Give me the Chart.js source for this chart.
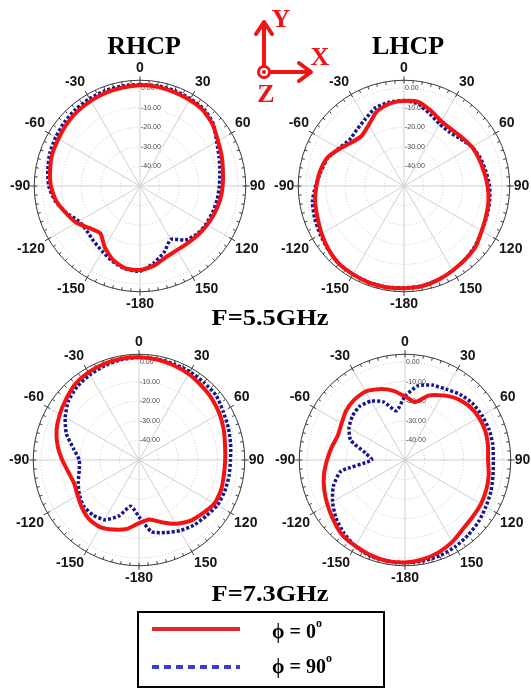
<!DOCTYPE html>
<html>
<head>
<meta charset="utf-8">
<script src="https://cdn.jsdelivr.net/npm/chart.js@4.4.1/dist/chart.umd.min.js"></script>
<style>
  html, body { margin: 0; padding: 0; background: #fff; overflow: hidden; }
  #page { position: relative; width: 531px; height: 688px; background: #fff; overflow: hidden;
          font-family: 'Liberation Serif', 'Times New Roman', serif; }
  #page canvas { position: absolute; }
  .t { position: absolute; font-weight: bold; color: #000; white-space: nowrap; line-height: 1;
       transform: translate(-50%, -50%); }
  .red { color: #f01414; }
  #legend { position: absolute; left: 137px; top: 611px; width: 248px; height: 77px;
            border: 2px solid #000; box-sizing: border-box; background: #fff; }
  .lg { position: absolute; font-weight: bold; font-size: 20px; white-space: nowrap; line-height: 1; color: #000; }
  .lg sup { font-size: 12px; position: relative; top: -3px; }
</style>
</head>
<body>
<div id="page">
  <canvas id="c1" width="260" height="260" style="left:8px;top:57px;width:260px;height:260px"></canvas>
  <canvas id="c2" width="260" height="260" style="left:272px;top:57px;width:260px;height:260px"></canvas>
  <canvas id="c3" width="260" height="260" style="left:7px;top:331px;width:260px;height:260px"></canvas>
  <canvas id="c4" width="260" height="260" style="left:273px;top:331px;width:260px;height:260px"></canvas>

  <div class="t" style="left:144px;top:46px;font-size:26px;">RHCP</div>
  <div class="t" style="left:408px;top:46px;font-size:26px;">LHCP</div>
  <div class="t" style="left:270px;top:317px;font-size:24px;transform:translate(-50%,-50%) scaleX(1.1);">F=5.5GHz</div>
  <div class="t" style="left:270px;top:593px;font-size:24px;transform:translate(-50%,-50%) scaleX(1.1);">F=7.3GHz</div>

  <svg style="position:absolute;left:0;top:0" width="531" height="120">
    <g stroke="#f01414" stroke-width="4" fill="none" stroke-linecap="round" stroke-linejoin="round">
      <line x1="264" y1="65" x2="264" y2="24"/>
      <polyline points="256,34 264,22 272,34"/>
      <line x1="271" y1="72" x2="310" y2="72"/>
      <polyline points="299,63 311,72 299,81"/>
      <circle cx="264" cy="72" r="5.5" stroke-width="3"/>
    </g>
    <circle cx="264" cy="72" r="2" fill="#f01414"/>
  </svg>
  <div class="t red" style="left:281px;top:19px;font-size:26px;">Y</div>
  <div class="t red" style="left:320px;top:57px;font-size:26px;">X</div>
  <div class="t red" style="left:266px;top:94px;font-size:26px;">Z</div>

  <div id="legend"></div>
  <div style="position:absolute;left:152px;top:627px;width:88px;height:4px;background:#e8222a;"></div>
  <div style="position:absolute;left:152px;top:665px;width:88px;height:4px;
              background:repeating-linear-gradient(to right,#3c3cd4 0 7px,transparent 7px 12px);"></div>
  <div class="lg" style="left:272px;top:620px;">ϕ = 0<sup>o</sup></div>
  <div class="lg" style="left:272px;top:655px;">ϕ = 90<sup>o</sup></div>
</div>

<script>
// Angles: 0,10,...,180,-170,...,-10 degrees (clockwise from top)
const angleLabels = ['0','','','30','','','60','','','90','','','120','','','150','','',
                     '-180','','','-150','','','-120','','','-90','','','-60','','','-30','',''];
// Radial axis (dB)
const radialTickValues = [0, -10, -20, -30, -40];
const radialTickLabels = ['0.00', '-10.00', '-20.00', '-30.00', '-40.00'];
const radialMin = -50;
const radialMax = 4;

// F = 5.5 GHz, RHCP
const rhcp55Phi0  = [1.5,1.4,1.0,0.7,0.3,-1.5,-4.0,-5.6,-7.0,-7.8,-8.5,-9.5,-10.4,-11.3,-12.0,-12.2,-11.3,-8.7,-7.1,
                     -7.3,-9.8,-14.0,-18.5,-16.5,-12.5,-9.7,-6.5,-4.5,-3.4,-2.3,-1.9,-1.0,-0.3,0.2,0.7,1.1];
const rhcp55Phi90 = [1.8,1.9,1.8,1.5,1.0,-1.0,-4.8,-7.0,-8.6,-9.5,-10.0,-10.6,-11.1,-11.9,-14.0,-18.5,-14.0,-10.0,-6.5,
                     -7.0,-9.0,-11.5,-13.2,-14.5,-14.0,-10.0,-6.0,-3.4,-2.2,-1.0,-0.3,0.5,1.1,1.5,1.8,1.9];
// F = 5.5 GHz, LHCP
const lhcp55Phi0  = [-6.6,-6.5,-9.3,-11.8,-12.3,-11.4,-10.0,-9.3,-8.5,-7.3,-6.2,-5.4,-4.2,-2.1,-1.2,-0.2,1.0,2.0,2.2,
                     2.5,2.5,2.1,1.8,0.3,-1.4,-3.0,-3.9,-5.3,-6.5,-8.2,-12.0,-15.3,-16.5,-14.0,-9.5,-7.3];
const lhcp55Phi90 = [-6.4,-7.5,-11.0,-13.5,-14.0,-12.5,-10.0,-8.5,-7.5,-6.3,-5.6,-5.0,-4.2,-2.5,-1.2,-0.2,1.0,1.8,2.0,
                     2.4,2.3,2.0,1.6,0.5,-0.6,-1.5,-2.5,-4.8,-7.0,-8.5,-11.5,-13.5,-12.5,-10.5,-7.5,-6.5];
// F = 7.3 GHz, RHCP
const rhcp73Phi0  = [2.4,2.1,1.5,0.7,-0.5,-1.4,-2.6,-4.0,-5.4,-6.0,-6.0,-5.4,-5.5,-7.6,-9.4,-12.4,-16.2,-19.2,-17.8,
                     -14.3,-12.2,-10.4,-10.5,-12.0,-13.8,-14.8,-13.5,-10.8,-7.8,-5.2,-3.3,-1.5,0.6,1.6,2.2,2.5];
const rhcp73Phi90 = [2.4,2.3,2.2,2.0,1.6,1.4,-0.4,-1.5,-2.5,-3.3,-3.3,-3.4,-3.8,-5.4,-6.5,-8.3,-10.6,-12.8,-21.0,
                     -26.0,-19.5,-14.8,-13.4,-13.2,-14.8,-17.0,-19.0,-19.5,-16.0,-10.5,-6.5,-3.0,-1.0,0.2,1.2,2.0];
// F = 7.3 GHz, LHCP
const lhcp73Phi0  = [-17.5,-20.0,-15.0,-11.9,-9.0,-7.2,-6.5,-6.4,-7.0,-7.6,-6.6,-5.8,-5.2,-4.9,-4.0,-1.7,0.2,1.6,2.3,
                     2.3,1.7,0.7,-0.1,-2.3,-4.3,-6.1,-8.0,-10.2,-12.0,-13.5,-12.6,-10.8,-9.8,-9.6,-11.5,-14.0];
const lhcp73Phi90 = [-17.5,-11.5,-9.3,-8.2,-6.3,-5.0,-4.6,-4.3,-4.5,-4.9,-4.4,-3.3,-2.3,-1.0,0.1,1.2,2.0,2.4,2.4,
                     2.4,2.2,0.8,-1.4,-4.0,-7.3,-11.1,-16.8,-33.0,-29.5,-20.5,-17.0,-15.0,-14.1,-15.3,-18.5,-24.5];

const seriesNames = ['\u03d5 = 0\u00b0', '\u03d5 = 90\u00b0'];

const rimPlugin = {
  id: 'rim',
  beforeDatasetsDraw(chart) {
    const s = chart.scales.r;
    const ctx = chart.ctx;
    const cx = s.xCenter, cy = s.yCenter, R = s.drawingArea;
    ctx.save();
    ctx.strokeStyle = '#3c3c3c';
    ctx.lineWidth = 1;
    ctx.setLineDash([]);
    ctx.beginPath();
    ctx.arc(cx, cy, R, 0, Math.PI * 2);
    ctx.stroke();
    ctx.beginPath();
    for (let a = 0; a < 360; a += 5) {
      const rad = a * Math.PI / 180;
      const major = a % 30 === 0;
      const r1 = R - 3, r2 = major ? R + 4 : R;
      ctx.moveTo(cx + r1 * Math.sin(rad), cy - r1 * Math.cos(rad));
      ctx.lineTo(cx + r2 * Math.sin(rad), cy - r2 * Math.cos(rad));
    }
    ctx.stroke();
    ctx.font = '7px "Liberation Sans", Arial, sans-serif';
    ctx.fillStyle = '#4a4a4a';
    ctx.textAlign = 'left';
    ctx.textBaseline = 'middle';
    radialTickValues.forEach((v, i) => {
      const d = s.getDistanceFromCenterForValue(v);
      ctx.fillText(radialTickLabels[i], cx + 1, cy - d);
    });
    ctx.restore();
  }
};

function makeChart(id, phi0, phi90) {
  return new Chart(document.getElementById(id), {
    type: 'radar',
    data: {
      labels: angleLabels,
      datasets: [
        { label: seriesNames[0], data: phi0, borderColor: '#f21414', borderWidth: 4,
          fill: false, pointRadius: 0, tension: 0.2 },
        { label: seriesNames[1], data: phi90, borderColor: '#17178c', borderWidth: 3.5,
          borderDash: [3, 2], fill: false, pointRadius: 0, tension: 0.2 }
      ]
    },
    options: {
      responsive: false,
      devicePixelRatio: 1,
      animation: false,
      layout: { padding: 0 },
      plugins: { legend: { display: false }, tooltip: { enabled: false } },
      scales: {
        r: {
          min: radialMin,
          max: radialMax,
          bounds: 'data',
          startAngle: 0,
          ticks: { display: false, stepSize: 10, includeBounds: false },
          grid: { circular: true, color: '#c2c2c2', lineWidth: 1 },
          border: { dash: [1, 2] },
          angleLines: {
            color: '#cfcfcf',
            lineWidth: (ctx) => (ctx.index % 3 === 0 ? 1 : 0)
          },
          pointLabels: {
            padding: 4,
            color: '#151515',
            font: { family: '"Liberation Sans", Arial, sans-serif', size: 14, weight: 'bold' }
          }
        }
      }
    },
    plugins: [rimPlugin]
  });
}

makeChart('c1', rhcp55Phi0, rhcp55Phi90);
makeChart('c2', lhcp55Phi0, lhcp55Phi90);
makeChart('c3', rhcp73Phi0, rhcp73Phi90);
makeChart('c4', lhcp73Phi0, lhcp73Phi90);
</script>
</body>
</html>
